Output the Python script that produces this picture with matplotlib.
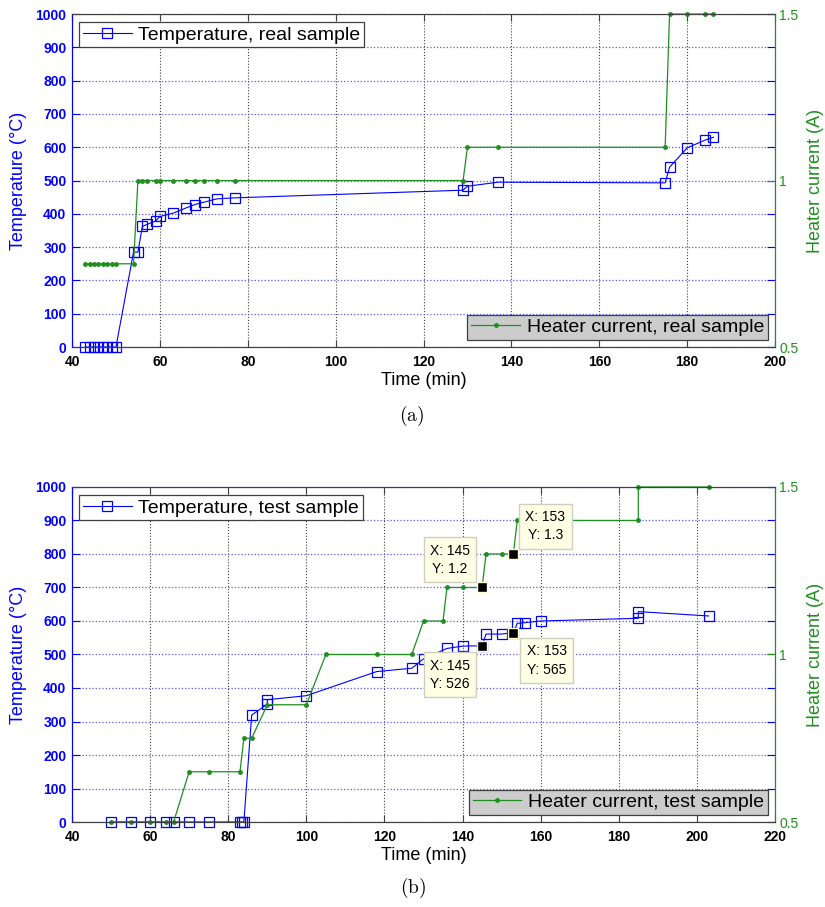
import matplotlib
matplotlib.use('Agg')
import matplotlib.pyplot as plt

plt.rcParams['font.family'] = ['Liberation Sans', 'DejaVu Sans']
plt.rcParams['mathtext.fontset'] = 'cm'

# (a) real sample
real_t = [43, 44, 45, 46, 47, 48, 49, 50, 54, 55, 56, 57, 59, 60, 63, 66, 68, 70,
          73, 77, 129, 130, 137, 175, 176, 180, 184, 186]
real_temp = [0, 0, 0, 0, 0, 0, 0, 0, 285, 285, 362, 368, 378, 392, 402, 418, 428,
             435, 445, 448, 471, 483, 495, 493, 540, 598, 621, 630]
real_cur = [0.75, 0.75, 0.75, 0.75, 0.75, 0.75, 0.75, 0.75, 0.75, 1.0, 1.0, 1.0,
            1.0, 1.0, 1.0, 1.0, 1.0, 1.0, 1.0, 1.0, 1.0, 1.1, 1.1, 1.1, 1.5, 1.5,
            1.5, 1.5]

# (b) test sample
test_t_temp = [50, 55, 60, 64, 66, 70, 75, 83, 83.5, 84, 86, 90, 90, 100, 118, 127,
               130, 136, 140, 145, 146, 150, 153, 154, 156, 160, 185, 185, 203]
test_temp = [0, 0, 0, 0, 0, 0, 0, 0, 0, 0, 319, 352, 365, 377, 449, 459, 487, 518,
             525, 526, 561, 561, 565, 593, 595, 600, 608, 628, 615]
test_t_cur = [50, 55, 60, 64, 66, 70, 75, 83, 84, 86, 90, 100, 105, 118, 127, 130,
              135, 136, 140, 145, 146, 150, 153, 154, 185, 185, 203]
test_cur = [0.5, 0.5, 0.5, 0.5, 0.5, 0.65, 0.65, 0.65, 0.75, 0.75, 0.85, 0.85, 1.0,
            1.0, 1.0, 1.1, 1.1, 1.2, 1.2, 1.2, 1.3, 1.3, 1.3, 1.4, 1.4, 1.5, 1.5]

# data tips on (b)
tip_t = [145, 153]
tip_cur = [1.2, 1.3]
tip_temp = [526, 565]

BLUE = '#0000ff'
GREEN = '#1f8f1f'
DARK = '#404040'


def draw_panel(rect, t_temp, temp, t_cur, cur, xmax, name):
    ax1 = fig.add_axes(rect)
    ax2 = ax1.twinx()

    ax1.plot(t_temp, temp, color=BLUE, lw=0.8, marker='s', ms=6.5, mfc='none',
             mew=0.9, clip_on=False, label='Temperature, ' + name)
    ax2.plot(t_cur, cur, color=GREEN, lw=0.9, marker='.', ms=5, clip_on=False,
             label='Heater current, ' + name)

    ax1.set_xlim(40, xmax)
    ax1.set_xticks(range(40, xmax + 1, 20))
    ax1.set_ylim(0, 1000)
    ax1.set_yticks(range(0, 1001, 100))
    ax2.set_ylim(0.5, 1.5)
    ax2.set_yticks([0.5, 1, 1.5])
    ax2.set_yticklabels(['0.5', '1', '1.5'])

    ax1.xaxis.grid(True, color=DARK, linestyle=':', lw=0.8)
    ax1.yaxis.grid(True, color='#5555ff', linestyle=':', lw=0.9)

    ax1.tick_params(axis='x', direction='in', top=True, length=5, color=DARK,
                    labelsize=10, pad=6)
    ax1.tick_params(axis='y', direction='in', right=True, length=6, color=BLUE,
                    labelcolor=BLUE, labelsize=10, pad=4)
    ax2.tick_params(axis='y', direction='in', length=6, color=GREEN,
                    labelcolor=GREEN, labelsize=10, pad=3)
    for lab in ax1.get_xticklabels() + ax1.get_yticklabels():
        lab.set_fontweight('bold')

    for ax in (ax1, ax2):
        ax.spines['top'].set_color(DARK)
        ax.spines['bottom'].set_color(DARK)
        ax.spines['left'].set_color(BLUE)
        ax.spines['right'].set_color(GREEN)

    ax1.set_xlabel('Time (min)', fontsize=13, labelpad=2)
    ax1.set_ylabel('Temperature (°C)', fontsize=13, color=BLUE, labelpad=6)
    ax2.set_ylabel('Heater current (A)', fontsize=13, color=GREEN, labelpad=6)

    leg1 = ax1.legend(loc='upper left', bbox_to_anchor=(0.01, 0.976), borderaxespad=0,
                      fontsize=14, handlelength=2.5, handletextpad=0.35,
                      borderpad=0.2, fancybox=False, framealpha=1)
    leg1.get_frame().set_edgecolor(DARK)
    leg1.get_frame().set_linewidth(0.9)
    leg2 = ax2.legend(loc='lower right', bbox_to_anchor=(0.99, 0.021), borderaxespad=0,
                      fontsize=14, handlelength=2.5, handletextpad=0.35,
                      borderpad=0.2, fancybox=False, framealpha=1,
                      facecolor='#cccccc')
    leg2.get_frame().set_edgecolor(DARK)
    leg2.get_frame().set_linewidth(0.9)
    return ax1, ax2


fig = plt.figure(figsize=(8.25, 9.07), dpi=100)

draw_panel([0.0873, 0.6174, 0.8521, 0.3671], real_t, real_temp, real_t, real_cur,
           200, 'real sample')
bx1, bx2 = draw_panel([0.0873, 0.0937, 0.8521, 0.3694], test_t_temp, test_temp,
                      test_t_cur, test_cur, 220, 'test sample')

# data tips
tip_style = dict(boxstyle='square,pad=0.45', fc='#ffffe6', ec='#cfcfbf', lw=1)
offsets_cur = [(-23, 20), (23, 20)]
offsets_temp = [(-23, -21), (24, -20)]
for i in range(len(tip_t)):
    bx2.plot(tip_t[i], tip_cur[i], 's', color='black', ms=7, mec='#ffffd0', mew=1,
             zorder=5)
    bx2.plot(tip_t[i], tip_temp[i], 's', color='black', ms=7, mec='#ffffd0', mew=1,
             zorder=5, transform=bx1.transData)
    bx2.annotate('X: %d\nY: %s' % (tip_t[i], tip_cur[i]), (tip_t[i], tip_cur[i]),
                 xytext=offsets_cur[i], textcoords='offset points', ha='center',
                 va='center', fontsize=10, linespacing=1.4, bbox=tip_style, zorder=6)
    bx2.annotate('X: %d\nY: %d' % (tip_t[i], tip_temp[i]), (tip_t[i], tip_temp[i]),
                 xycoords=bx1.transData, xytext=offsets_temp[i],
                 textcoords='offset points', ha='center', va='center', fontsize=10,
                 linespacing=1.4, bbox=tip_style, zorder=6)

fig.text(0.4994, 0.5413, r'$\mathrm{(a)}$', ha='center', va='center', fontsize=14)
fig.text(0.5006, 0.0209, r'$\mathrm{(b)}$', ha='center', va='center', fontsize=14)

fig.savefig('out.png', dpi=100)
